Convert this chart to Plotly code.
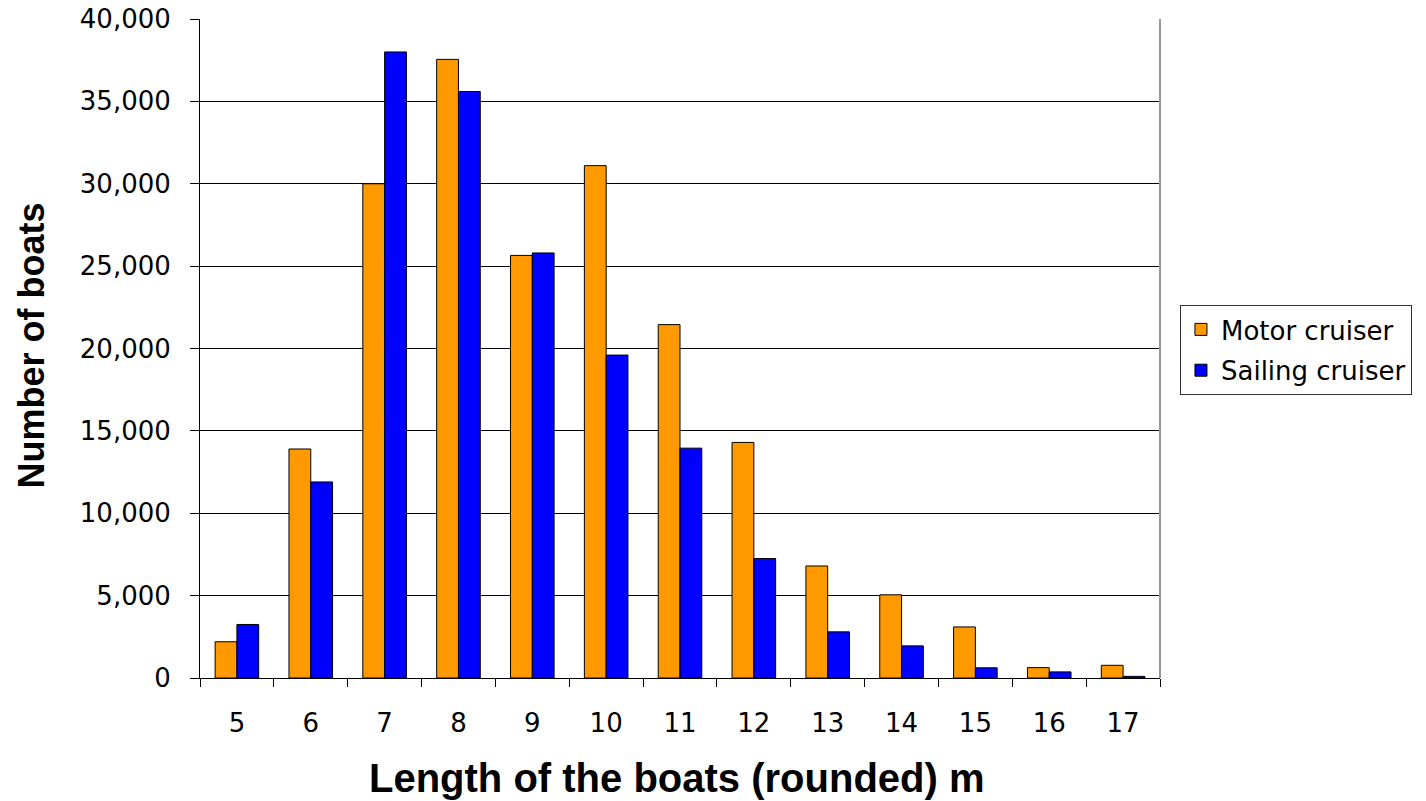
import plotly.graph_objects as go

# Boat counts by rounded hull length (m)
lengths = ["5", "6", "7", "8", "9", "10", "11", "12", "13", "14", "15", "16", "17"]
motor_cruiser = [2200, 13900, 30000, 37550, 25650, 31100, 21450, 14300, 6800, 5050, 3100, 630, 770]
sailing_cruiser = [3250, 11900, 38000, 35600, 25800, 19600, 13950, 7250, 2800, 1950, 620, 370, 100]

TITLE_FONT = "Liberation Sans, Arial, sans-serif"
TEXT_FONT = "DejaVu Sans, Verdana, sans-serif"

fig = go.Figure()
fig.add_trace(go.Bar(
    x=lengths, y=motor_cruiser, name="Motor cruiser", legendgroup="motor",
    marker=dict(color="#FF9900", line=dict(color="#000000", width=1)),
))
fig.add_trace(go.Bar(
    x=lengths, y=sailing_cruiser, name="Sailing cruiser", legendgroup="sailing",
    marker=dict(color="#0000FF", line=dict(color="#000000", width=1)),
))

fig.update_layout(
    width=1426, height=801,
    margin=dict(l=200, r=266, t=19, b=123, autoexpand=False),
    paper_bgcolor="white", plot_bgcolor="white",
    barmode="group", bargap=0.41, bargroupgap=0,
    font=dict(family=TEXT_FONT, color="#000000", size=26),
    showlegend=True,
    legend=dict(
        x=1.0208, xanchor="left", y=0.566, yanchor="top",
        bordercolor="#333333", borderwidth=1,
        font=dict(family=TEXT_FONT, size=26, color="#000000"),
        traceorder="grouped", tracegroupgap=4,
    ),
)

fig.update_xaxes(
    type="category", tickson="boundaries",
    ticks="outside", ticklen=8, tickcolor="#000000", tickwidth=1,
    showline=True, linecolor="#000000", linewidth=1,
    showgrid=False,
    tickfont=dict(family=TEXT_FONT, size=26),
    ticklabelstandoff=22,
)

fig.update_yaxes(
    range=[0, 40000], dtick=5000, tickformat=",",
    ticks="outside", ticklen=9, tickcolor="#000000", tickwidth=1,
    showline=True, linecolor="#000000", linewidth=1,
    showgrid=True, gridcolor="#000000", gridwidth=1,
    zeroline=False,
    tickfont=dict(family=TEXT_FONT, size=26),
    ticklabelstandoff=14,
)

# Axis titles
fig.add_annotation(
    text="<b>Length of the boats (rounded) m</b>",
    xref="paper", yref="paper", x=0.5, y=0, xanchor="center", yanchor="middle",
    xshift=-3, yshift=-100, showarrow=False,
    font=dict(family=TITLE_FONT, size=40, color="#000000"),
)
fig.add_annotation(
    text="<b>Number of boats</b>",
    xref="paper", yref="paper", x=0, y=0.5, xanchor="center", yanchor="middle",
    xshift=-169, yshift=3, textangle=-90, showarrow=False,
    font=dict(family=TITLE_FONT, size=36, color="#000000"),
)

# Light frame on the right edge of the plot area
fig.add_shape(type="line", xref="paper", yref="paper",
              x0=1, x1=1, y0=0, y1=1,
              line=dict(color="#999999", width=2))

fig.write_html("out.html")
